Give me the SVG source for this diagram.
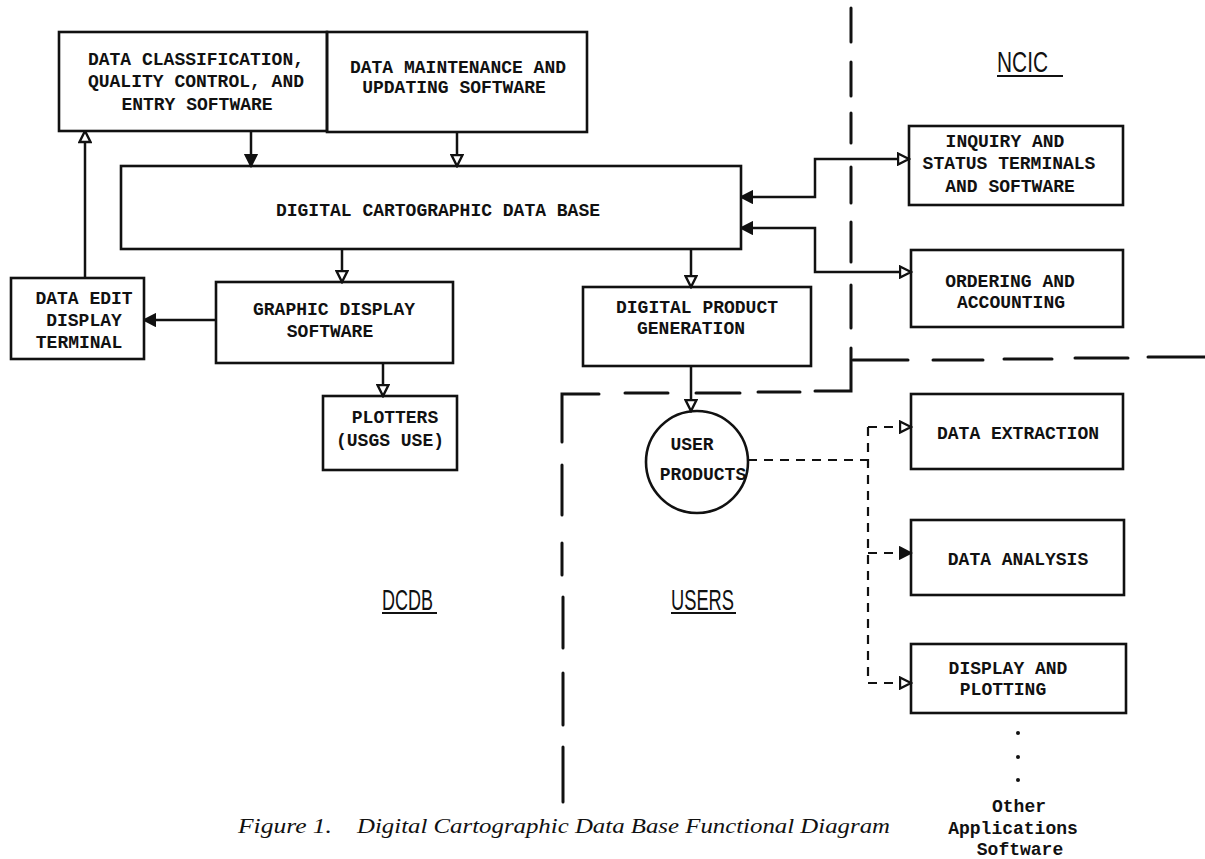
<svg xmlns="http://www.w3.org/2000/svg" width="1205" height="859" viewBox="0 0 1205 859">
<style>
.box{fill:none;stroke:#111;stroke-width:2.6}
.t{font-family:"Liberation Mono","Courier New",monospace;font-size:18px;font-weight:bold;fill:#111;text-anchor:middle}
.c{fill:none;stroke:#111;stroke-width:2.5}
.d{fill:none;stroke:#111;stroke-width:2.2;stroke-dasharray:9 7}
.b{fill:none;stroke:#111;stroke-width:3;stroke-linecap:round}
.lbl{font-family:"Liberation Sans",Arial,sans-serif;font-size:30px;fill:#111}
.cap{font-family:"Liberation Serif","Times New Roman",serif;font-style:italic;font-size:20px;fill:#111}
.oth{font-family:"Liberation Mono","Courier New",monospace;font-size:18px;font-weight:bold;fill:#111;text-anchor:middle}
</style>
<defs>
<marker id="ah" viewBox="0 0 14 14" markerWidth="14" markerHeight="14" refX="12.5" refY="7" orient="auto-start-reverse" markerUnits="userSpaceOnUse">
<path d="M1.5,1.5 L12.5,7 L1.5,12.5 Z" fill="#fff" stroke="#111" stroke-width="2.4"/>
</marker>
<marker id="af" viewBox="0 0 14 14" markerWidth="14" markerHeight="14" refX="12.5" refY="7" orient="auto-start-reverse" markerUnits="userSpaceOnUse">
<path d="M1.5,1.5 L12.5,7 L1.5,12.5 Z" fill="#111" stroke="#111" stroke-width="2"/>
</marker>
</defs>
<rect width="1205" height="859" fill="#fff"/>

<g id="boundaries">
<line class="b" x1="851" y1="8" x2="851" y2="42"/>
<line class="b" x1="851" y1="62" x2="851" y2="96"/>
<line class="b" x1="851" y1="113" x2="851" y2="143"/>
<line class="b" x1="851" y1="167" x2="851" y2="203"/>
<line class="b" x1="851" y1="222" x2="851" y2="262"/>
<line class="b" x1="851" y1="285" x2="851" y2="328"/>
<polyline class="b" points="851,348 851,391 815,391"/>
<line class="b" x1="758" y1="392" x2="800" y2="392"/>
<line class="b" x1="696" y1="393" x2="740" y2="393"/>
<line class="b" x1="625" y1="393" x2="668" y2="393"/>
<polyline class="b" points="599,394 562,394 562,442"/>
<line class="b" x1="562" y1="465" x2="562" y2="515"/>
<line class="b" x1="562" y1="543" x2="562" y2="575"/>
<line class="b" x1="563" y1="597" x2="563" y2="648"/>
<line class="b" x1="563" y1="673" x2="563" y2="725"/>
<line class="b" x1="563" y1="747" x2="563" y2="802"/>
<line class="b" x1="853" y1="360" x2="908" y2="360"/>
<line class="b" x1="933" y1="360" x2="983" y2="360"/>
<line class="b" x1="1004" y1="359" x2="1052" y2="359"/>
<line class="b" x1="1075" y1="358" x2="1128" y2="358"/>
<line class="b" x1="1148" y1="357" x2="1205" y2="357"/>
</g>

<g id="connectors">
<path class="c" d="M251,131 V166" marker-end="url(#af)"/>
<path class="c" d="M457,132 V166" marker-end="url(#ah)"/>
<path class="c" d="M85,278 V131" marker-end="url(#ah)"/>
<path class="c" d="M342,249 V282" marker-end="url(#ah)"/>
<path class="c" d="M216,320 H144" marker-end="url(#af)"/>
<path class="c" d="M383,363 V396" marker-end="url(#ah)"/>
<path class="c" d="M691,249 V287" marker-end="url(#ah)"/>
<path class="c" d="M691,366 V411" marker-end="url(#ah)"/>
<path class="c" d="M741,197 H815 V159 H909" marker-start="url(#af)" marker-end="url(#ah)"/>
<path class="c" d="M741,228 H815 V272 H911" marker-start="url(#af)" marker-end="url(#ah)"/>
<path class="d" d="M748,460 H868"/>
<path class="d" d="M868,427 V683"/>
<path class="d" d="M868,427 H911" marker-end="url(#ah)"/>
<path class="d" d="M868,553 H911" marker-end="url(#af)"/>
<path class="d" d="M868,683 H911" marker-end="url(#ah)"/>
</g>

<g id="n-classification">
<rect class="box" x="59" y="32" width="268" height="99"/>
<text class="t" x="196" y="65">DATA CLASSIFICATION,</text>
<text class="t" x="196" y="87">QUALITY CONTROL, AND</text>
<text class="t" x="197" y="110">ENTRY SOFTWARE</text>
</g>
<g id="n-maintenance">
<rect class="box" x="327" y="32" width="260" height="100"/>
<text class="t" x="458" y="73">DATA MAINTENANCE AND</text>
<text class="t" x="454" y="93">UPDATING SOFTWARE</text>
</g>
<g id="n-dcdb">
<rect class="box" x="121" y="166" width="620" height="83"/>
<text class="t" x="438" y="216">DIGITAL CARTOGRAPHIC DATA BASE</text>
</g>
<g id="n-edit">
<rect class="box" x="11" y="278" width="133" height="81"/>
<text class="t" x="84" y="304">DATA EDIT</text>
<text class="t" x="84" y="326">DISPLAY</text>
<text class="t" x="79" y="348">TERMINAL</text>
</g>
<g id="n-graphic">
<rect class="box" x="216" y="282" width="237" height="81"/>
<text class="t" x="334" y="315">GRAPHIC DISPLAY</text>
<text class="t" x="330" y="337">SOFTWARE</text>
</g>
<g id="n-plotters">
<rect class="box" x="323" y="396" width="134" height="74"/>
<text class="t" x="395" y="423">PLOTTERS</text>
<text class="t" x="390" y="446">(USGS USE)</text>
</g>
<g id="n-product">
<rect class="box" x="583" y="287" width="228" height="79"/>
<text class="t" x="697" y="313">DIGITAL PRODUCT</text>
<text class="t" x="691" y="334">GENERATION</text>
</g>
<g id="n-userproducts">
<circle class="box" cx="697" cy="462" r="51"/>
<text class="t" x="692" y="450">USER</text>
<text class="t" x="703" y="480">PRODUCTS</text>
</g>
<g id="n-inquiry">
<rect class="box" x="909" y="126" width="214" height="79"/>
<text class="t" x="1005" y="147">INQUIRY AND</text>
<text class="t" x="1009" y="169">STATUS TERMINALS</text>
<text class="t" x="1010" y="192">AND SOFTWARE</text>
</g>
<g id="n-ordering">
<rect class="box" x="911" y="250" width="212" height="77"/>
<text class="t" x="1010" y="287">ORDERING AND</text>
<text class="t" x="1011" y="308">ACCOUNTING</text>
</g>
<g id="n-extraction">
<rect class="box" x="911" y="394" width="212" height="75"/>
<text class="t" x="1018" y="439">DATA EXTRACTION</text>
</g>
<g id="n-analysis">
<rect class="box" x="911" y="520" width="213" height="75"/>
<text class="t" x="1018" y="565">DATA ANALYSIS</text>
</g>
<g id="n-display">
<rect class="box" x="911" y="644" width="215" height="69"/>
<text class="t" x="1008" y="674">DISPLAY AND</text>
<text class="t" x="1003" y="695">PLOTTING</text>
</g>

<g id="labels">
<text class="lbl" x="997" y="72" textLength="51" lengthAdjust="spacingAndGlyphs">NCIC</text>
<line x1="997" y1="76" x2="1063" y2="76" stroke="#111" stroke-width="2"/>
<text class="lbl" x="382" y="610" font-size="25" textLength="51" lengthAdjust="spacingAndGlyphs">DCDB</text>
<line x1="382" y1="613" x2="437" y2="613" stroke="#111" stroke-width="2"/>
<text class="lbl" x="671" y="610" font-size="25" textLength="63" lengthAdjust="spacingAndGlyphs">USERS</text>
<line x1="671" y1="613" x2="736" y2="613" stroke="#111" stroke-width="2"/>
<circle cx="1018" cy="733" r="2" fill="#111"/>
<circle cx="1018" cy="757" r="2" fill="#111"/>
<circle cx="1018" cy="780" r="2" fill="#111"/>
<text class="oth" x="1019" y="812">Other</text>
<text class="oth" x="1013" y="834">Applications</text>
<text class="oth" x="1020" y="855">Software</text>
<text class="cap" x="238" y="833" textLength="94" lengthAdjust="spacingAndGlyphs">Figure 1.</text>
<text class="cap" x="357" y="833" textLength="533" lengthAdjust="spacingAndGlyphs">Digital Cartographic Data Base Functional Diagram</text>
</g>
</svg>
